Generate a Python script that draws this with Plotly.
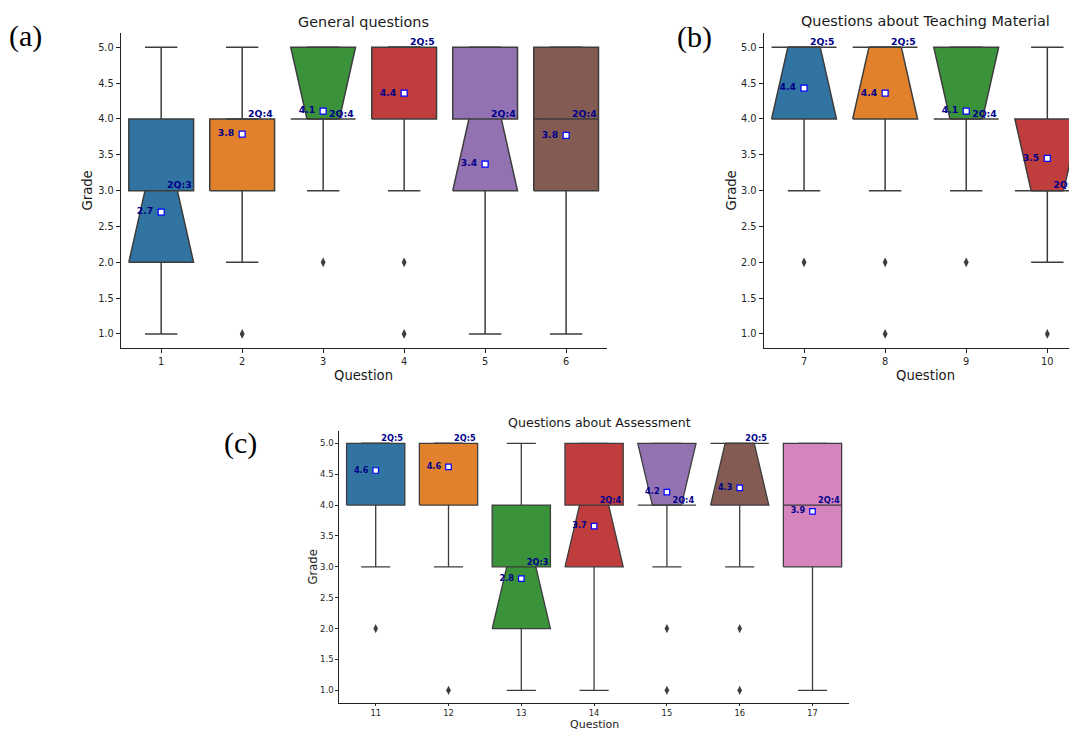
import plotly.graph_objects as go

# page has an 8px body margin; figure is sized so that it fills the 1077x731 window
OFF = 8
W, H = 1077 - OFF, 731 - OFF

# ---------------- data ----------------
# Panel (a) General questions
a_questions = [1, 2, 3, 4, 5, 6]
a_q1 = [2, 3, 4, 4, 3, 3]
a_median = [3, 4, 4, 5, 4, 4]
a_q3 = [4, 4, 5, 5, 5, 5]
a_ci_lo = [2, 4, 4, 5, 3, 4]
a_ci_hi = [3, 4, 5, 5, 4, 4]
a_whisker_lo = [1, 2, 3, 3, 1, 1]
a_whisker_hi = [5, 5, 5, 5, 5, 5]
a_outliers = [[], [1], [2], [2, 1], [], []]
a_means = [2.70, 3.79, 4.11, 4.36, 3.37, 3.77]

# Panel (b) Questions about Teaching Material
b_questions = [7, 8, 9, 10]
b_q1 = [4, 4, 4, 3]
b_median = [5, 5, 4, 3]
b_q3 = [5, 5, 5, 4]
b_ci_lo = [4, 4, 4, 3]
b_ci_hi = [5, 5, 5, 4]
b_whisker_lo = [3, 3, 3, 2]
b_whisker_hi = [5, 5, 5, 5]
b_outliers = [[2], [2, 1], [2], [1]]
b_means = [4.43, 4.36, 4.11, 3.45]

# Panel (c) Questions about Assessment
c_questions = [11, 12, 13, 14, 15, 16, 17]
c_q1 = [4, 4, 2, 3, 4, 4, 3]
c_median = [5, 5, 3, 4, 4, 5, 4]
c_q3 = [5, 5, 4, 5, 5, 5, 5]
c_ci_lo = [5, 5, 2, 3, 4, 4, 4]
c_ci_hi = [5, 5, 3, 4, 5, 5, 4]
c_whisker_lo = [3, 3, 1, 1, 3, 3, 1]
c_whisker_hi = [5, 5, 5, 5, 5, 5, 5]
c_outliers = [[2], [1], [], [], [2, 1], [2, 1], []]
c_means = [4.56, 4.62, 2.81, 3.66, 4.21, 4.28, 3.90]

palette = ["#3274a1", "#e1812c", "#3a923a", "#c03d3e", "#9372b2", "#845b53", "#d684bd"]
EDGE = "#3d3d3d"
LBL = "#00008b"
FONT = "DejaVu Sans"


def xp(px):
    return (px - OFF) / W


def yp(py):
    return 1 - (py - OFF) / H


fig = go.Figure()


def add_panel(xa, ya, qs, q1, med, q3, clo, chi, wlo, whi, outl, means,
              lw, fs_lbl, msize):
    hw = 0.4
    for i, q in enumerate(qs):
        xs = [q - hw, q + hw, q + hw, q + hw / 2, q + hw, q + hw,
              q - hw, q - hw, q - hw / 2, q - hw, q - hw]
        ys = [q1[i], q1[i], clo[i], med[i], chi[i], q3[i],
              q3[i], chi[i], med[i], clo[i], q1[i]]
        fig.add_trace(go.Scatter(x=xs, y=ys, mode="lines", fill="toself",
                                 fillcolor=palette[i],
                                 line=dict(color=EDGE, width=lw),
                                 xaxis=xa, yaxis=ya, showlegend=False,
                                 hoverinfo="skip"))
    # whiskers + caps
    wx, wy = [], []
    for i, q in enumerate(qs):
        wx += [q, q, None, q, q, None,
               q - hw / 2, q + hw / 2, None, q - hw / 2, q + hw / 2, None]
        wy += [q1[i], wlo[i], None, q3[i], whi[i], None,
               wlo[i], wlo[i], None, whi[i], whi[i], None]
    fig.add_trace(go.Scatter(x=wx, y=wy, mode="lines",
                             line=dict(color=EDGE, width=lw),
                             xaxis=xa, yaxis=ya, showlegend=False, hoverinfo="skip"))
    # medians
    mx, my = [], []
    for i, q in enumerate(qs):
        mx += [q - hw / 2, q + hw / 2, None]
        my += [med[i], med[i], None]
    fig.add_trace(go.Scatter(x=mx, y=my, mode="lines",
                             line=dict(color=EDGE, width=lw),
                             xaxis=xa, yaxis=ya, showlegend=False, hoverinfo="skip"))
    # outliers
    ox, oy = [], []
    for i, q in enumerate(qs):
        for v in outl[i]:
            ox.append(q)
            oy.append(v)
    fig.add_trace(go.Scatter(x=ox, y=oy, mode="markers",
                             marker=dict(symbol="diamond-tall", size=msize + 1,
                                         color=EDGE, line=dict(width=0)),
                             xaxis=xa, yaxis=ya, showlegend=False, hoverinfo="skip"))
    # means
    fig.add_trace(go.Scatter(x=qs, y=means, mode="markers",
                             marker=dict(symbol="square", size=msize, color="white",
                                         line=dict(color="#0000ff", width=1.2)),
                             xaxis=xa, yaxis=ya, showlegend=False, hoverinfo="skip"))
    fig.add_trace(go.Scatter(x=[q - 0.2 for q in qs], y=means, mode="text",
                             text=[f"{m:.1f}" for m in means],
                             textposition="middle center",
                             textfont=dict(family=FONT, size=fs_lbl, color=LBL, weight="bold"),
                             xaxis=xa, yaxis=ya, showlegend=False, hoverinfo="skip"))
    fig.add_trace(go.Scatter(x=[q + 0.225 for q in qs], y=med, mode="text",
                             text=[f"2Q:{m}" for m in med],
                             textposition="top center",
                             textfont=dict(family=FONT, size=fs_lbl, color=LBL, weight="bold"),
                             xaxis=xa, yaxis=ya, showlegend=False, hoverinfo="skip"))


add_panel("x", "y", a_questions, a_q1, a_median, a_q3, a_ci_lo, a_ci_hi,
          a_whisker_lo, a_whisker_hi, a_outliers, a_means, 1.5, 9.3, 6)
add_panel("x2", "y2", b_questions, b_q1, b_median, b_q3, b_ci_lo, b_ci_hi,
          b_whisker_lo, b_whisker_hi, b_outliers, b_means, 1.5, 9.3, 6)
add_panel("x3", "y3", c_questions, c_q1, c_median, c_q3, c_ci_lo, c_ci_hi,
          c_whisker_lo, c_whisker_hi, c_outliers, c_means, 1.3, 8.2, 5.5)


def xaxis(dom, rng, vals, anchor, fs, tl=4):
    return dict(domain=[xp(dom[0]), min(1.0, xp(dom[1]))], range=rng, anchor=anchor,
                tickmode="array", tickvals=vals, ticktext=[str(v) for v in vals],
                showline=True, linecolor="#222", linewidth=1, ticks="outside",
                ticklen=tl, tickwidth=1, tickcolor="#222", showgrid=False,
                zeroline=False, tickfont=dict(family=FONT, size=fs, color="#262626"))


def yaxis(dom, anchor, fs, tl=4):
    return dict(domain=[yp(dom[1]), yp(dom[0])], range=[0.8, 5.2], anchor=anchor,
                tickmode="linear", tick0=1.0, dtick=0.5, tickformat=".1f",
                showline=True, linecolor="#222", linewidth=1, ticks="outside",
                ticklen=tl, tickwidth=1, tickcolor="#222", showgrid=False,
                zeroline=False, tickfont=dict(family=FONT, size=fs, color="#262626"))


fig.update_layout(
    width=W, height=H, paper_bgcolor="white", plot_bgcolor="white",
    margin=dict(l=0, r=0, t=0, b=0), showlegend=False,
    xaxis=xaxis([120.7, 606.6], [0.5, 6.5], a_questions, "y", 9.8),
    yaxis=yaxis([33, 348.3], "x", 9.8),
    xaxis2=xaxis([763.5, 1077], [6.5, 10.366], b_questions, "y2", 9.8),
    yaxis2=yaxis([33, 348.3], "x2", 9.8),
    xaxis3=xaxis([339.3, 848.9], [10.5, 17.5], c_questions, "y3", 8.3, tl=2),
    yaxis3=yaxis([431, 702.7], "x3", 8.5, tl=3),
)

ann = []


def txt(x, y, s, size, family=FONT, angle=0, color="#1a1a1a"):
    ann.append(dict(x=xp(x), y=yp(y), xref="paper", yref="paper", text=s,
                    showarrow=False, xanchor="center", yanchor="middle",
                    textangle=angle, font=dict(family=family, size=size, color=color)))


txt(363.6, 22, "General questions", 14.4)
txt(925.5, 21, "Questions about Teaching Material", 14.4)
txt(599, 422, "Questions about Assessment", 12.6)
txt(363.6, 375, "Question", 13.2)
txt(925.5, 375, "Question", 13.2)
txt(594, 724.3, "Question", 11)
txt(87, 190.5, "Grade", 13.2, angle=-90)
txt(731, 190.5, "Grade", 13.2, angle=-90)
txt(312.5, 567, "Grade", 11.6, angle=-90)
txt(25, 36, "(a)", 30, family="Liberation Serif", color="black")
txt(694, 37, "(b)", 30, family="Liberation Serif", color="black")
txt(240, 443, "(c)", 30, family="Liberation Serif", color="black")
fig.update_layout(annotations=ann)

fig.write_html("out.html")
